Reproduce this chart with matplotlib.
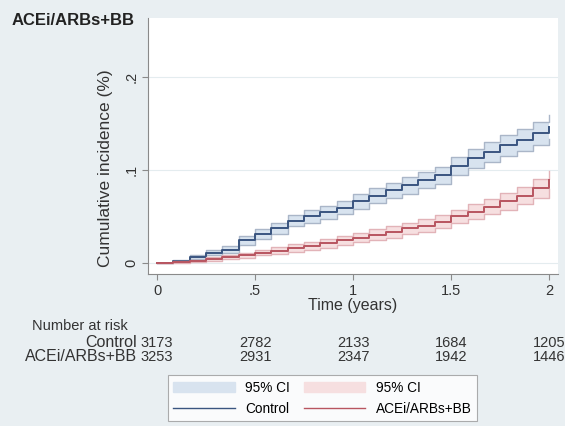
import numpy as np
import matplotlib.pyplot as plt
from matplotlib.patches import Patch
from matplotlib.lines import Line2D

plt.rcParams['font.family'] = ['Liberation Sans', 'DejaVu Sans']

# follow-up in months, converted to years below
months = [0, 1, 2, 3, 4, 5, 6, 7, 8, 9, 10, 11, 12,
          13, 14, 15, 16, 17, 18, 19, 20, 21, 22, 23, 24]

control = [0, 0.002, 0.006, 0.011, 0.014, 0.024, 0.031, 0.037, 0.045, 0.050, 0.054, 0.059, 0.066,
           0.072, 0.078, 0.083, 0.089, 0.094, 0.104, 0.112, 0.119, 0.126, 0.132, 0.139, 0.146]
control_ci = [0, 0.001, 0.002, 0.003, 0.004, 0.005, 0.005, 0.006, 0.006, 0.007, 0.007, 0.007, 0.008,
              0.008, 0.008, 0.009, 0.009, 0.009, 0.010, 0.010, 0.011, 0.011, 0.012, 0.012, 0.013]

acei = [0, 0.001, 0.002, 0.004, 0.006, 0.008, 0.011, 0.013, 0.016, 0.018, 0.021, 0.024, 0.027,
        0.030, 0.033, 0.037, 0.040, 0.044, 0.050, 0.055, 0.060, 0.066, 0.072, 0.080, 0.089]
acei_ci = [0, 0.001, 0.001, 0.002, 0.002, 0.003, 0.003, 0.004, 0.004, 0.004, 0.005, 0.005, 0.005,
           0.006, 0.006, 0.006, 0.007, 0.007, 0.007, 0.008, 0.008, 0.009, 0.009, 0.010, 0.010]

risk_times = [0, 0.5, 1, 1.5, 2]
risk_control = [3173, 2782, 2133, 1684, 1205]
risk_acei = [3253, 2931, 2347, 1942, 1446]

bg = '#e9eff2'
blue_line = '#3a5580'
blue_fill = '#d8e3ef'
blue_edge = '#aab6c8'
red_line = '#b85560'
red_fill = '#f6dfe0'
red_edge = '#e2b3b8'
txt = '#333333'

t = np.array(months) / 12.0

fig = plt.figure(figsize=(5.65, 4.26), dpi=100, facecolor=bg)
ax = fig.add_axes([0.262, 0.357, 0.726, 0.601])
ax.set_facecolor('white')

for y, ci, lc, fc, ec in [(control, control_ci, blue_line, blue_fill, blue_edge),
                          (acei, acei_ci, red_line, red_fill, red_edge)]:
    y = np.array(y)
    ci = np.array(ci)
    ax.fill_between(t, y - ci, y + ci, step='post', color=fc, lw=0)
    ax.step(t, y - ci, where='post', color=ec, lw=1.0)
    ax.step(t, y + ci, where='post', color=ec, lw=1.0)
    ax.step(t, y, where='post', color=lc, lw=1.4)

ax.set_xlim(-0.046, 2.046)
ax.set_ylim(-0.012, 0.263)
ax.set_xticks([0, 0.5, 1, 1.5, 2])
ax.set_xticklabels(['0', '.5', '1', '1.5', '2'], fontsize=10.5)
ax.set_yticks([0, 0.1, 0.2])
ax.set_yticklabels(['0', '.1', '.2'], fontsize=10.5, rotation=90, va='center')
ax.grid(axis='y', color='#e4ecef', lw=0.8)
ax.set_axisbelow(True)
for s in ['top', 'right']:
    ax.spines[s].set_visible(False)
for s in ['left', 'bottom']:
    ax.spines[s].set_color('#8a8a8a')
ax.tick_params(colors='#8a8a8a', labelcolor=txt, length=4, pad=3)
ax.set_xlabel('Time (years)', fontsize=11.5, color=txt, labelpad=0)
ax.set_ylabel('Cumulative incidence (%)', fontsize=12.5, color=txt)
ax.yaxis.set_label_coords(-0.085, 0.414)

fig.text(0.021, 0.953, 'ACEi/ARBs+BB', fontsize=12, fontweight='bold', va='center', color='#222222')

# number at risk table
tr = ax.get_xaxis_transform()
fig.text(0.057, 0.235, 'Number at risk', fontsize=10.5, color=txt, va='center')
fig.text(0.2425, 0.195, 'Control', fontsize=11.5, color=txt, va='center', ha='right')
fig.text(0.2425, 0.162, 'ACEi/ARBs+BB', fontsize=11.5, color=txt, va='center', ha='right')
for x, a, b in zip(risk_times, risk_control, risk_acei):
    ax.text(x, -0.27, str(a), transform=tr, ha='center', va='center', fontsize=10.5, color=txt, clip_on=False)
    ax.text(x, -0.324, str(b), transform=tr, ha='center', va='center', fontsize=10.5, color=txt, clip_on=False)

handles = [Patch(facecolor=blue_fill, edgecolor=blue_fill), Line2D([], [], color=blue_line, lw=1),
           Patch(facecolor=red_fill, edgecolor=red_fill), Line2D([], [], color=red_line, lw=1)]
labels = ['95% CI', 'Control', '95% CI', 'ACEi/ARBs+BB']
leg = fig.legend(handles, labels, ncol=2, loc='center', bbox_to_anchor=(0.571, 0.065),
                 fontsize=9.8, frameon=True, fancybox=False, edgecolor='#999999',
                 handlelength=4.5, columnspacing=1.0, labelspacing=0.55, borderpad=0.4,
                 handletextpad=0.8)
leg.get_frame().set_linewidth(0.8)

fig.savefig('out.png', dpi=100, facecolor=bg)
